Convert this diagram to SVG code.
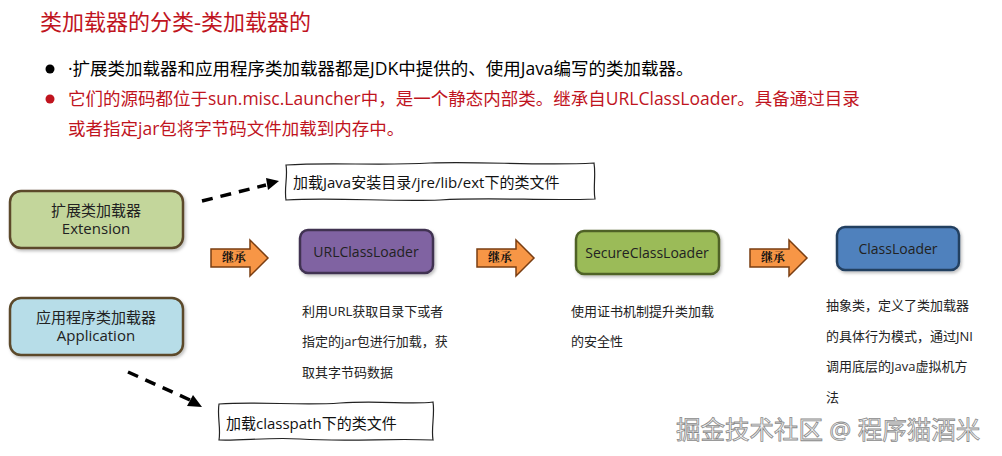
<svg xmlns="http://www.w3.org/2000/svg" width="1002" height="456" viewBox="0 0 1002 456">
<style>
text{font-family:"Open Sans","Noto Sans CJK SC","Noto Sans",sans-serif;}
.title{font-size:22px;fill:#c0141e;}
.b1{font-size:17.5px;fill:#000;}
.b2{font-size:17.5px;fill:#c0141e;}
.node{stroke-width:2.5;}
.lbl{font-size:15px;fill:#222;text-anchor:middle;}
.desc{font-size:13px;fill:#222;}
.note{fill:#fff;stroke:#222;stroke-width:1.2;}
.notet{font-size:15px;fill:#111;}
.inh{fill:#f79646;stroke:#7a3e12;stroke-width:1.5;}
.inht{font-size:12px;font-weight:bold;fill:#111;text-anchor:middle;font-family:"Noto Serif CJK SC","Noto Sans CJK SC",serif;}
.dash{stroke:#000;stroke-width:3.5;stroke-dasharray:11 8;fill:none;}
.wm{font-size:24.5px;fill:#f4f4f4;stroke:#8a8a8a;stroke-width:0.8;}
</style>
<defs>
<filter id="sh" x="-10%" y="-10%" width="130%" height="140%">
<feDropShadow dx="1.5" dy="2" stdDeviation="1.5" flood-color="#000" flood-opacity="0.25"/>
</filter>
</defs>
<rect width="1002" height="456" fill="#fff"/>
<text class="title" x="40" y="30">类加载器的分类-类加载器的</text>
<circle cx="50" cy="69" r="4.5" fill="#000"/>
<text class="b1" x="68" y="75">·扩展类加载器和应用程序类加载器都是JDK中提供的、使用Java编写的类加载器。</text>
<circle cx="50" cy="99" r="4.5" fill="#c0141e"/>
<text class="b2" x="68" y="105">它们的源码都位于sun.misc.Launcher中，是一个静态内部类。继承自URLClassLoader。具备通过目录</text>
<text class="b2" x="68" y="135">或者指定jar包将字节码文件加载到内存中。</text>

<g id="connectors">
<path class="dash" d="M202,201 L266,185"/>
<polygon points="279,181 266,178 268,190" fill="#000"/>
<path class="dash" d="M128,372 L190,400"/>
<polygon points="202,407 193,395 187,406" fill="#000"/>
<g id="inherit1">
<polygon class="inh" points="211,249 250,249 250,240 268,258 250,276 250,267 211,267"/>
<text class="inht" x="234" y="262">继承</text>
</g>
<g id="inherit2">
<polygon class="inh" points="477,249 516,249 516,240 534,258 516,276 516,267 477,267"/>
<text class="inht" x="500" y="262">继承</text>
</g>
<g id="inherit3">
<polygon class="inh" points="750,249 789,249 789,240 807,258 789,276 789,267 750,267"/>
<text class="inht" x="773" y="262">继承</text>
</g>
</g>

<g id="note-ext">
<path class="note" d="M286,165 C330,162 380,166 430,163 C480,161 540,166 594,163 C596,175 593,188 595,199 C545,201 490,197 440,200 C390,202 335,197 286,200 C284,188 288,176 286,165 Z"/>
<text class="notet" x="293" y="188">加载Java安装目录/jre/lib/ext下的类文件</text>
</g>

<g id="extension">
<rect class="node" x="10" y="191" width="173" height="57" rx="11" fill="#c3d69b" stroke="#5b4a2c" filter="url(#sh)"/>
<text class="lbl" x="96" y="216">扩展类加载器</text>
<text class="lbl" x="96" y="234">Extension</text>
</g>

<g id="application">
<rect class="node" x="10" y="298" width="173" height="57" rx="11" fill="#b7dde8" stroke="#5b4a2c" filter="url(#sh)"/>
<text class="lbl" x="96" y="323">应用程序类加载器</text>
<text class="lbl" x="96" y="341">Application</text>
</g>

<g id="urlclassloader">
<rect class="node" x="300" y="230" width="133" height="43" rx="8" fill="#8064a2" stroke="#3f3151" filter="url(#sh)"/>
<text class="lbl" x="366" y="257" style="font-size:14px">URLClassLoader</text>
<text class="desc" x="302" y="316">利用URL获取目录下或者</text>
<text class="desc" x="302" y="346">指定的jar包进行加载，获</text>
<text class="desc" x="302" y="377">取其字节码数据</text>
</g>

<g id="secureclassloader">
<rect class="node" x="576" y="231" width="143" height="43" rx="8" fill="#9bbb59" stroke="#4f6228" filter="url(#sh)"/>
<text class="lbl" x="647" y="258" style="font-size:14px">SecureClassLoader</text>
<text class="desc" x="571" y="316">使用证书机制提升类加载</text>
<text class="desc" x="571" y="346">的安全性</text>
</g>

<g id="classloader">
<rect class="node" x="837" y="227" width="122" height="43" rx="8" fill="#4f81bd" stroke="#243f60" filter="url(#sh)"/>
<text class="lbl" x="898" y="254" style="font-size:14px">ClassLoader</text>
<text class="desc" x="826" y="310">抽象类，定义了类加载器</text>
<text class="desc" x="826" y="341">的具体行为模式，通过JNI</text>
<text class="desc" x="826" y="371">调用底层的Java虚拟机方</text>
<text class="desc" x="826" y="402">法</text>
</g>

<g id="note-app">
<path class="note" d="M219,404 C260,401 300,406 340,403 C380,400 410,405 433,402 C435,415 431,428 433,440 C390,438 350,442 300,439 C270,437 240,441 219,440 C221,428 217,416 219,404 Z"/>
<text class="notet" x="226" y="429">加载classpath下的类文件</text>
</g>

<text class="wm" x="676" y="439">掘金技术社区 @ 程序猫酒米</text>
</svg>
